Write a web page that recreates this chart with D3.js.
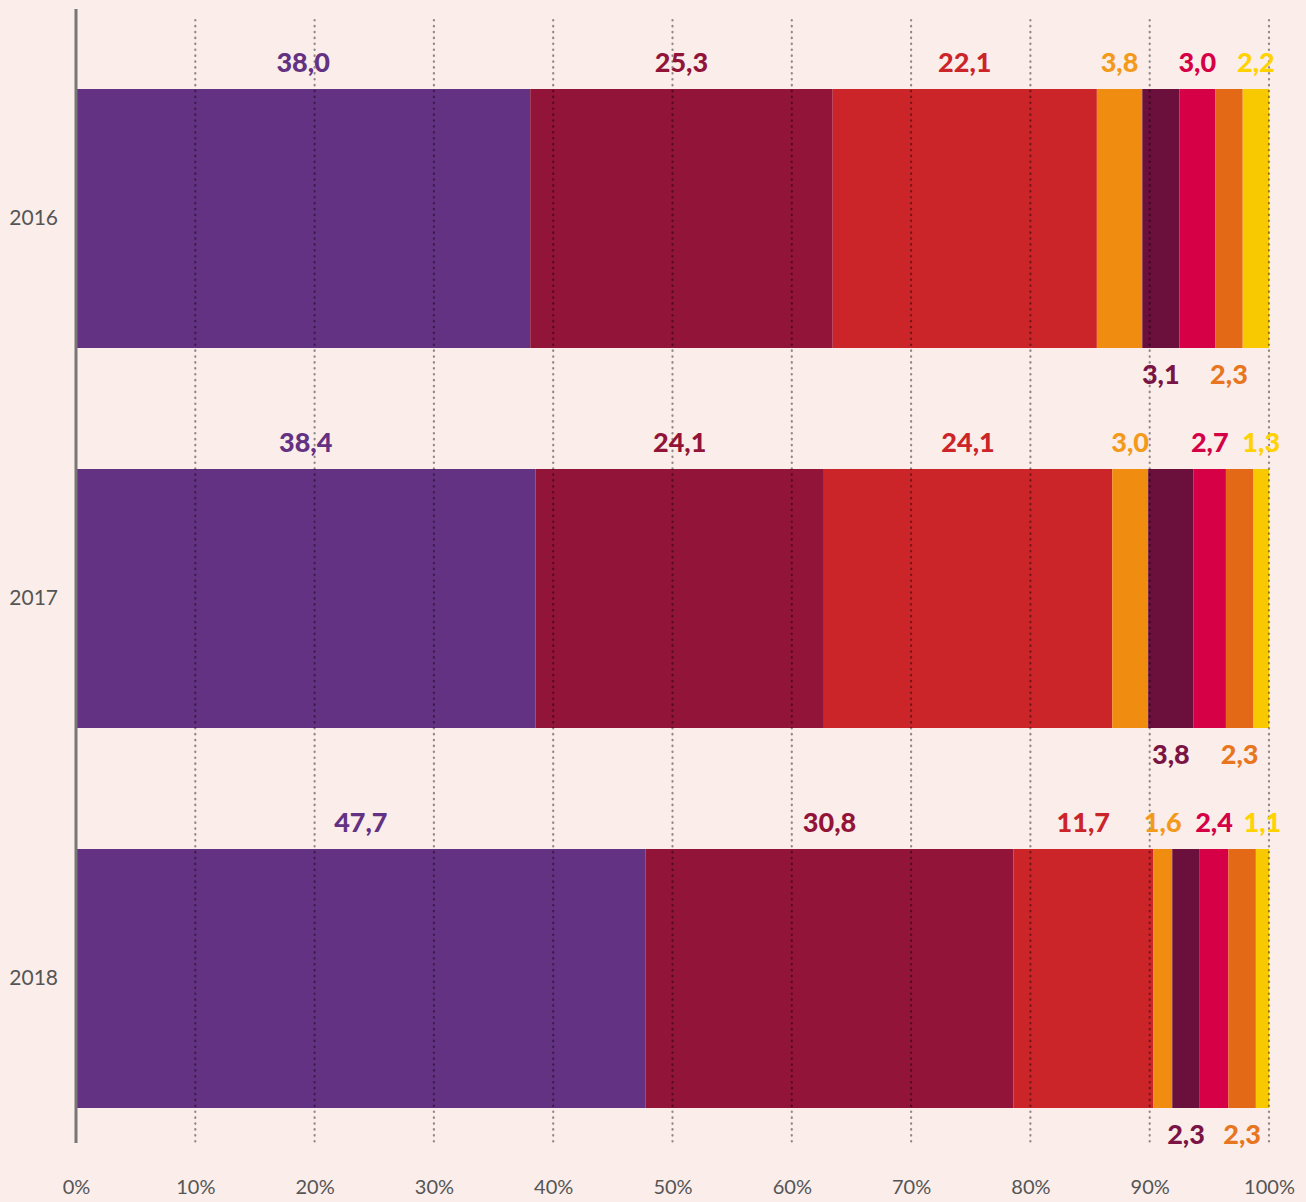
<!DOCTYPE html>
<html>
<head>
<meta charset="utf-8">
<script src="https://cdn.jsdelivr.net/npm/d3@7"></script>
<style>
  html, body { margin: 0; padding: 0; background: #FAEDEA; }
  svg { display: block; }
</style>
</head>
<body>
<svg id="chart" width="1306" height="1202"></svg>
<script>
// ---- DATA ----
const years = ["2016", "2017", "2018"];
const seriesKeys = ["s1", "s2", "s3", "s4", "s5", "s6", "s7", "s8"];
const s1 = [38.0, 38.4, 47.7];
const s2 = [25.3, 24.1, 30.8];
const s3 = [22.1, 24.1, 11.7];
const s4 = [3.8, 3.0, 1.6];
const s5 = [3.1, 3.8, 2.3];
const s6 = [3.0, 2.7, 2.4];
const s7 = [2.3, 2.3, 2.3];
const s8 = [2.2, 1.3, 1.1];
const tickValues = [0, 0.1, 0.2, 0.3, 0.4, 0.5, 0.6, 0.7, 0.8, 0.9, 1.0];

// ---- STYLE ----
const fillColors = ["#643282", "#921438", "#CC2529", "#F08C10", "#6B0F3C", "#D50045", "#E36917", "#F8C800"];
const labelColors = ["#643282", "#921438", "#CC2529", "#F39A1B", "#7A1444", "#D50045", "#E87520", "#FFD200"];
const labelsBelow = new Set(["s5", "s7"]);

const seriesValues = [s1, s2, s3, s4, s5, s6, s7, s8];
const table = years.map((y, i) => {
  const row = { year: y };
  seriesKeys.forEach((k, j) => row[k] = seriesValues[j][i]);
  return row;
});

const svg = d3.select("#chart");
svg.append("rect").attr("width", 1306).attr("height", 1202).attr("fill", "#FAEDEA");

const x = d3.scaleLinear().domain([0, 1]).range([76, 1269]);
const y = d3.scaleBand().domain(years).range([89, 1108]).paddingInner(121 / 380).paddingOuter(0);

const stack = d3.stack().keys(seriesKeys).offset(d3.stackOffsetExpand);
const stacked = stack(table);

const locale = d3.formatLocale({ decimal: ",", thousands: ".", grouping: [3], currency: ["", "€"] });
const fmt = locale.format(".1f");

// bars
const layers = svg.append("g").selectAll("g").data(stacked).join("g")
  .attr("fill", (d, i) => fillColors[i]);
layers.selectAll("rect").data(d => d).join("rect")
  .attr("x", d => x(d[0]))
  .attr("width", d => x(d[1]) - x(d[0]))
  .attr("y", d => y(d.data.year))
  .attr("height", y.bandwidth());

// gridlines (dotted, on top of bars)
svg.append("g").selectAll("line").data(tickValues.filter(t => t > 0)).join("line")
  .attr("x1", d => x(d)).attr("x2", d => x(d))
  .attr("y1", 20).attr("y2", 1143)
  .attr("stroke", "#000").attr("stroke-opacity", 0.42)
  .attr("stroke-width", 2.2).attr("stroke-linecap", "round")
  .attr("stroke-dasharray", "0.5,5.4");

// y axis line
svg.append("line")
  .attr("x1", x(0)).attr("x2", x(0)).attr("y1", 9).attr("y2", 1143)
  .attr("stroke", "#777").attr("stroke-width", 3);

// x tick labels
const xAxis = d3.axisBottom(x).tickValues(tickValues).tickSize(0).tickPadding(0)
  .tickFormat(d => Math.round(d * 100) + "%");
const gx = svg.append("g").attr("transform", "translate(0,1180)").call(xAxis);
gx.select(".domain").remove();
gx.selectAll("text")
  .attr("font-family", "Lato, 'DejaVu Sans', sans-serif")
  .attr("font-size", 20).attr("fill", "#555").attr("dy", "0.71em");

// y labels
const yAxis = d3.axisLeft(y).tickSize(0).tickPadding(0);
const gy = svg.append("g").attr("transform", "translate(58,0)").call(yAxis);
gy.select(".domain").remove();
gy.selectAll("text")
  .attr("font-family", "Lato, 'DejaVu Sans', sans-serif")
  .attr("font-size", 21).attr("fill", "#555");

// value labels
stacked.forEach((layer, i) => {
  const below = labelsBelow.has(layer.key);
  svg.append("g").selectAll("text").data(layer).join("text")
    .attr("x", d => (x(d[0]) + x(d[1])) / 2)
    .attr("y", d => below ? y(d.data.year) + y.bandwidth() + 36 : y(d.data.year) - 17)
    .attr("text-anchor", "middle")
    .attr("font-family", "Lato, 'DejaVu Sans', sans-serif")
    .attr("font-weight", 900)
    .attr("font-size", 27)
    .attr("fill", labelColors[i])
    .text(d => fmt(d.data[layer.key]));
});
</script>
</body>
</html>
